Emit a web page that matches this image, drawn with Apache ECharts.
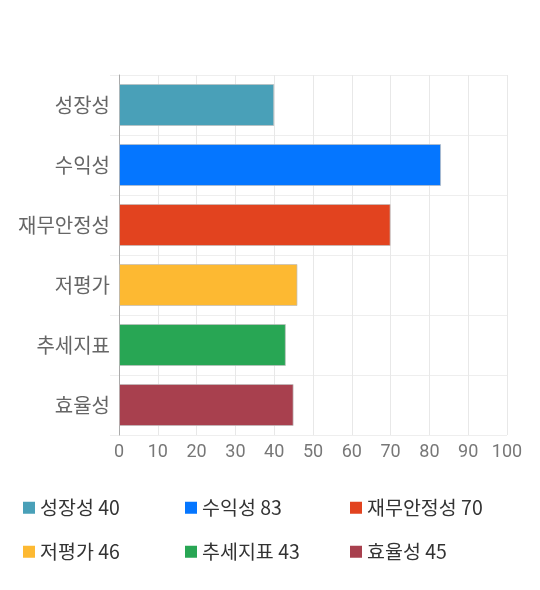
<!DOCTYPE html>
<html>
<head>
<meta charset="utf-8">
<script src="https://cdn.jsdelivr.net/npm/echarts@6/dist/echarts.min.js"></script>
<style>
  html, body { margin: 0; padding: 0; background: #fff; }
  #main { width: 540px; height: 590px; }
</style>
</head>
<body>
<div id="main"></div>
<script>
var categories = ['성장성', '수익성', '재무안정성', '저평가', '추세지표', '효율성'];
var values = [40, 83, 70, 46, 43, 45];
var xTicks = [0, 10, 20, 30, 40, 50, 60, 70, 80, 90, 100];

var palette = ['#49a0b8', '#0576ff', '#e2431f', '#fdb932', '#28a654', '#a8404e'];
var legendPos = [
  [18, 493], [180, 493], [345, 493],
  [18, 537], [180, 537], [345, 537]
];

var chart = echarts.init(document.getElementById('main'));

// 카테고리마다 시리즈 하나 (범례 색 맞추려고)
var series = categories.map(function (name, i) {
  var data = categories.map(function (c, j) { return j === i ? values[i] : '-'; });
  return {
    name: name,
    type: 'bar',
    stack: 'all',
    barWidth: 42,
    data: data,
    itemStyle: {
      color: palette[i],
      borderColor: 'rgba(190,190,190,0.7)',
      borderWidth: 1
    },
    emphasis: { disabled: true }
  };
});

var legends = categories.map(function (name, i) {
  return {
    data: [name],
    left: legendPos[i][0],
    top: legendPos[i][1],
    icon: 'rect',
    itemWidth: 12,
    itemHeight: 12,
    itemGap: 8,
    selectedMode: false,
    itemStyle: { color: palette[i], borderColor: palette[i], borderWidth: 0 },
    textStyle: {
      fontSize: 19.5,
      color: '#333',
      fontFamily: '"Noto Sans CJK KR", "Noto Sans", sans-serif'
    },
    formatter: function (n) {
      return n + ' ' + values[categories.indexOf(n)];
    }
  };
});

var option = {
  animation: false,
  color: palette,
  grid: { left: 119, right: 33, top: 75, bottom: 155, containLabel: false },
  legend: legends,
  xAxis: {
    type: 'value',
    min: xTicks[0],
    max: xTicks[xTicks.length - 1],
    interval: 10,
    axisLine: { show: false },
    axisTick: { show: false },
    splitLine: { show: true, lineStyle: { color: '#e8e8e8' } },
    axisLabel: {
      color: '#777',
      fontSize: 18,
      margin: 8,
      fontFamily: 'Roboto, "Noto Sans", sans-serif'
    }
  },
  yAxis: {
    type: 'category',
    data: categories,
    inverse: true,
    axisLine: { show: true, lineStyle: { color: '#aaa' } },
    axisTick: { show: true, length: 9, lineStyle: { color: '#eee' } },
    splitLine: { show: true, lineStyle: { color: '#eee' } },
    axisLabel: {
      color: '#666',
      fontSize: 20,
      margin: 9,
      fontFamily: '"Noto Sans CJK KR", sans-serif'
    }
  },
  series: series
};

chart.setOption(option);
window.onresize = chart.resize;
</script>
</body>
</html>
